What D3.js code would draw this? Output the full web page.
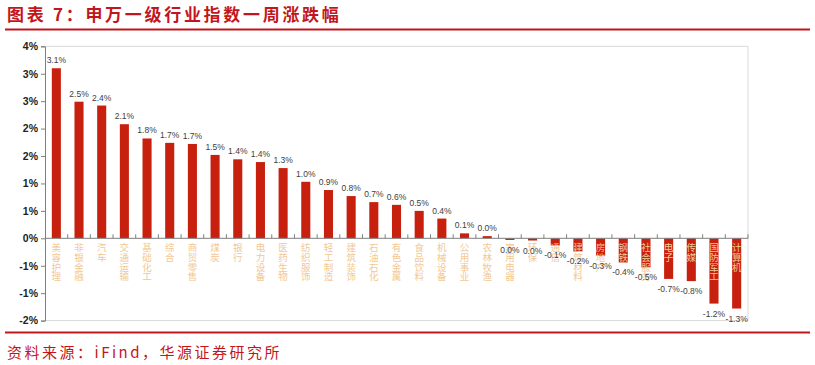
<!DOCTYPE html>
<html><head><meta charset="utf-8">
<script src="https://cdn.jsdelivr.net/npm/d3@7"></script>
<style>
html,body{margin:0;padding:0;background:#fff;}
svg{display:block;}
</style>
</head><body>
<svg id="chart" width="815" height="365"></svg>
<script>
const categories = ["美容护理","非银金融","汽车","交通运输","基础化工","综合","商贸零售","煤炭","银行","电力设备","医药生物","纺织服饰","轻工制造","建筑装饰","石油石化","有色金属","食品饮料","机械设备","公用事业","农林牧渔","家用电器","环保","通信","建筑材料","房地产","钢铁","社会服务","电子","传媒","国防军工","计算机"];
const values = [3.10,2.49,2.42,2.08,1.82,1.74,1.72,1.52,1.44,1.39,1.28,1.03,0.88,0.77,0.66,0.61,0.50,0.36,0.09,0.04,-0.03,-0.04,-0.13,-0.24,-0.32,-0.44,-0.53,-0.74,-0.78,-1.19,-1.28];
const tickValues = [-1.5,-1.0,-0.5,0,0.5,1.0,1.5,2.0,2.5,3.0,3.5];
const tickLabels = ["-2%","-1%","-1%","0%","1%","1%","2%","2%","3%","3%","4%"];
const titleText = "图表 7：申万一级行业指数一周涨跌幅";
const sourceText = "资料来源：iFind，华源证券研究所";

(function(){
const RED = "#C3161C";
const BAR = "#C8200E";
const svg = d3.select("#chart");
svg.append("rect").attr("width",815).attr("height",365).attr("fill","#fff");

// title & lines
svg.append("text").attr("x",7).attr("y",21).text(titleText)
  .attr("font-family","'Noto Sans CJK SC'").attr("font-size",17).attr("font-weight","bold")
  .attr("letter-spacing",2.7).attr("fill",RED);
svg.append("line").attr("x1",5).attr("x2",810).attr("y1",29.5).attr("y2",29.5).attr("stroke",RED).attr("stroke-width",1.8);
svg.append("line").attr("x1",5).attr("x2",810).attr("y1",332.5).attr("y2",332.5).attr("stroke",RED).attr("stroke-width",1.8);
svg.append("text").attr("x",7).attr("y",358).text(sourceText)
  .attr("font-family","'Noto Sans CJK SC'").attr("font-size",15)
  .attr("letter-spacing",2.5).attr("fill",RED);

const pL = 45, pR = 748, pT = 46.3, pB = 320.6;
const y = d3.scaleLinear().domain([-1.5,3.5]).range([pB, pT]);
const x = d3.scaleBand().domain(categories).range([pL,pR]).paddingInner(0.6).paddingOuter(0.3);
const y0 = y(0);

// plot border
svg.append("path").attr("d",`M${pL},${pT}H${pR}V${pB}H${pL}`).attr("fill","none").attr("stroke","#D9D9D9").attr("stroke-width",1);

// bars
svg.append("g").selectAll("rect").data(values).join("rect")
  .attr("x",(d,i)=>x(categories[i]))
  .attr("width",x.bandwidth())
  .attr("y",d=>Math.min(y(d),y0))
  .attr("height",d=>Math.abs(y(d)-y0))
  .attr("fill",BAR);

// y axis
const yAxis = d3.axisLeft(y).tickValues(tickValues).tickSize(4)
  .tickFormat((d,i)=>tickLabels[i]);
const gy = svg.append("g").attr("transform",`translate(${pL},0)`).call(yAxis);
gy.select(".domain").attr("stroke","#7F7F7F");
gy.selectAll(".tick line").attr("stroke","#7F7F7F");
gy.selectAll(".tick text").attr("font-family","'Liberation Sans', Arial").attr("font-size",10.5)
  .attr("font-weight","bold").attr("fill","#222").attr("x",-7);

// x axis line at 0 with ticks between categories
const gx = svg.append("g");
gx.append("line").attr("x1",pL).attr("x2",pR).attr("y1",y0).attr("y2",y0).attr("stroke","#7F7F7F");
const bounds = d3.range(categories.length+1).map(i=>pL + (pR-pL)*i/categories.length);
gx.selectAll("line.tk").data(bounds.slice(1)).join("line").attr("class","tk")
  .attr("x1",d=>d).attr("x2",d=>d).attr("y1",y0-4).attr("y2",y0).attr("stroke","#7F7F7F");

// category labels (vertical)
const cl = svg.append("g").attr("font-family","'Noto Sans CJK SC'").attr("font-size",9.5).attr("fill","#F2C894");
categories.forEach((c,i)=>{
  const cx = x(c)+x.bandwidth()/2;
  const t = cl.append("text").attr("text-anchor","middle");
  Array.from(c).forEach((ch,j)=>{
    t.append("tspan").attr("x",cx).attr("y",y0+13+j*9.6).text(ch);
  });
});

// value labels
const fmt = v => { const r = Math.round(v*10)/10; return (r===0?0:r).toFixed(1)+"%"; };
svg.append("g").selectAll("text").data(values).join("text")
  .attr("x",(d,i)=>x(categories[i])+x.bandwidth()/2)
  .attr("y",d=> d>=0 ? y(d)-5 : y(d)+13)
  .attr("text-anchor","middle")
  .attr("font-family","'Liberation Sans', Arial").attr("font-size",8.5).attr("fill","#404040")
  .text(d=>fmt(d));
})();
</script>
</body></html>
